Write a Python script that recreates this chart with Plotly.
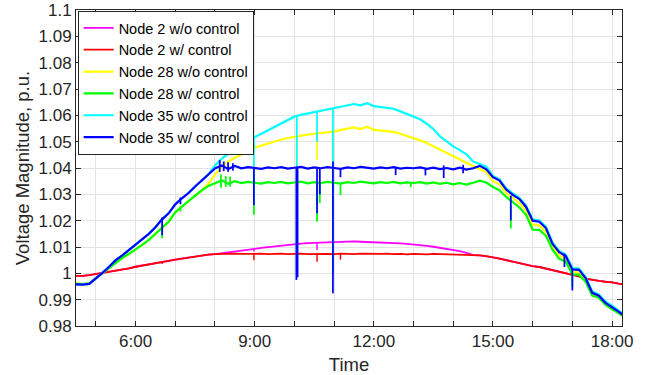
import plotly.graph_objects as go

# ---------------- data ----------------
# sample times: every 10 minutes from 4:30 to 18:20 (hours)
T_START_MIN = 270
T_STEP_MIN = 10
N_SAMPLES = 84
time_h = [(T_START_MIN + i * T_STEP_MIN) / 60.0 for i in range(N_SAMPLES)]

# Node 35 w/ control (blue)
blue_early = [0.9958, 0.9957, 0.9960, 0.9980, 1.0002, 1.0025, 1.0050, 1.0068, 1.0088, 1.0110,
              1.0130, 1.0150, 1.0175, 1.0205, 1.0228, 1.0262, 1.0285, 1.0305, 1.0330, 1.0352, 1.0375]
blue_mid = [1.0398, 1.0410, 1.0396, 1.0408, 1.0399, 1.0403,
            1.0400, 1.0397, 1.0402, 1.0399, 1.0403, 1.0398,
            1.0401, 1.0404, 1.0398, 1.0402, 1.0399, 1.0403,
            1.0400, 1.0397, 1.0402, 1.0399, 1.0404, 1.0400,
            1.0398, 1.0402, 1.0399, 1.0403, 1.0398, 1.0401,
            1.0399, 1.0402, 1.0397, 1.0401, 1.0396, 1.0400,
            1.0395, 1.0401, 1.0394, 1.0399, 1.0408, 1.0395]
blue_late = [1.0365, 1.0352, 1.0318, 1.0298, 1.0282, 1.0252, 1.0200, 1.0196, 1.0172, 1.0112, 1.0080,
             1.0066, 1.0015, 1.0013, 0.9982, 0.9926, 0.9915, 0.9888, 0.9872, 0.9855, 0.9835]

# Node 28 w/ control (green)
green_early = [0.9961, 0.9959, 0.9962, 0.9981, 1.0000, 1.0021, 1.0041, 1.0059, 1.0074, 1.0090,
               1.0108, 1.0127, 1.0150, 1.0172, 1.0196, 1.0232, 1.0254, 1.0274, 1.0295, 1.0315, 1.0332]
green_mid = [1.0342, 1.0353, 1.0340, 1.0350, 1.0343, 1.0347,
             1.0344, 1.0341, 1.0346, 1.0343, 1.0347, 1.0342,
             1.0345, 1.0348, 1.0342, 1.0346, 1.0343, 1.0347,
             1.0344, 1.0341, 1.0346, 1.0343, 1.0348, 1.0344,
             1.0342, 1.0346, 1.0343, 1.0347, 1.0342, 1.0345,
             1.0343, 1.0346, 1.0341, 1.0345, 1.0340, 1.0344,
             1.0338, 1.0343, 1.0337, 1.0344, 1.0352, 1.0345]
green_late = [1.0328, 1.0315, 1.0290, 1.0270, 1.0250, 1.0222, 1.0166, 1.0165, 1.0143, 1.0090, 1.0055,
              1.0045, 0.9996, 0.9995, 0.9968, 0.9915, 0.9907, 0.9880, 0.9865, 0.9850, 0.9832]

# Node 35 w/o control (cyan): same as blue before 8:00
cyan_mid = [1.0410, 1.0435, 1.0455, 1.0470, 1.0490, 1.0505,
            1.0518, 1.0530, 1.0543, 1.0557, 1.0570, 1.0582,
            1.0595, 1.0602, 1.0607, 1.0613, 1.0616, 1.0622,
            1.0627, 1.0632, 1.0637, 1.0643, 1.0638, 1.0646,
            1.0635, 1.0632, 1.0629, 1.0625, 1.0615, 1.0604,
            1.0595, 1.0585, 1.0568, 1.0548, 1.0520, 1.0500,
            1.0482, 1.0468, 1.0452, 1.0425, 1.0415, 1.0405]
cyan_late = [1.0370, 1.0357, 1.0323, 1.0303, 1.0287, 1.0257, 1.0205, 1.0201, 1.0177, 1.0117, 1.0085,
             1.0071, 1.0020, 1.0018, 0.9987, 0.9931, 0.9920, 0.9893, 0.9877, 0.9860, 0.9840]

# Node 28 w/o control (yellow): same as green before 7:50
yellow_mid = [1.0340,
              1.0375, 1.0405, 1.0425, 1.0440, 1.0452, 1.0465,
              1.0478, 1.0485, 1.0493, 1.0500, 1.0508, 1.0514,
              1.0519, 1.0522, 1.0527, 1.0530, 1.0532, 1.0535,
              1.0538, 1.0545, 1.0550, 1.0554, 1.0548, 1.0557,
              1.0545, 1.0543, 1.0540, 1.0537, 1.0530, 1.0522,
              1.0513, 1.0505, 1.0495, 1.0482, 1.0470, 1.0458,
              1.0445, 1.0432, 1.0420, 1.0408, 1.0398, 1.0385]
yellow_late = [1.0350, 1.0338, 1.0305, 1.0285, 1.0268, 1.0238, 1.0185, 1.0182, 1.0158, 1.0100, 1.0068,
               1.0056, 1.0005, 1.0004, 0.9975, 0.9920, 0.9911, 0.9884, 0.9869, 0.9852, 0.9834]

# Node 2 w/ control (red)
red_early = [0.9990, 0.9990, 0.9993, 0.9997, 1.0001, 1.0005, 1.0009, 1.0014, 1.0019, 1.0025,
             1.0029, 1.0033, 1.0037, 1.0042, 1.0047, 1.0052, 1.0056, 1.0060, 1.0064, 1.0068, 1.0071]
red_mid = [1.0073, 1.0074, 1.0073, 1.0075, 1.0074, 1.0073,
           1.0074, 1.0075, 1.0073, 1.0074, 1.0075, 1.0073,
           1.0074, 1.0075, 1.0073, 1.0074, 1.0075, 1.0074,
           1.0073, 1.0075, 1.0074, 1.0073, 1.0075, 1.0074,
           1.0073, 1.0074, 1.0075, 1.0073, 1.0074, 1.0072,
           1.0074, 1.0073, 1.0072, 1.0074, 1.0073, 1.0072,
           1.0071, 1.0072, 1.0070, 1.0069, 1.0068, 1.0065]
red_late = [1.0061, 1.0056, 1.0050, 1.0044, 1.0040, 1.0032, 1.0027, 1.0024, 1.0018, 1.0011, 1.0006,
            1.0001, 0.9995, 0.9988, 0.9980, 0.9975, 0.9971, 0.9968, 0.9966, 0.9961, 0.9958]

# Node 2 w/o control (magenta): differs from red between 8:10 and 14:20
magenta_mid = [1.0076, 1.0080, 1.0083, 1.0087, 1.0090,
               1.0093, 1.0097, 1.0100, 1.0103, 1.0106, 1.0109,
               1.0111, 1.0113, 1.0115, 1.0116, 1.0117, 1.0118,
               1.0119, 1.0119, 1.0120, 1.0121, 1.0120, 1.0119,
               1.0120, 1.0118, 1.0117, 1.0116, 1.0114, 1.0112,
               1.0110, 1.0107, 1.0104, 1.0101, 1.0097, 1.0093,
               1.0089, 1.0084, 1.0078]

blue_v = blue_early + blue_mid + blue_late
green_v = green_early + green_mid + green_late
cyan_v = blue_early + cyan_mid + cyan_late
yellow_v = green_early[:20] + yellow_mid + yellow_late
red_v = red_early + red_mid + red_late
magenta_v = red_v[:22] + magenta_mid + red_v[60:]

# short transients: (time h, top value, bottom value)
blue_spikes = [(6.67, 1.0212, 1.0145), (7.13, 1.0288, 1.0262),
               (8.12, 1.0430, 1.0385), (8.22, 1.0425, 1.0388), (8.33, 1.0422, 1.0386), (8.45, 1.0418, 1.0390),
               (8.98, 1.0400, 1.0259), (10.05, 1.0402, 0.9975), (10.08, 1.0402, 0.9985),
               (10.57, 1.0400, 1.0228), (10.64, 1.0400, 1.0300), (10.97, 1.0425, 0.9924),
               (11.16, 1.0400, 1.0365), (12.55, 1.0400, 1.0373), (13.30, 1.0400, 1.0372),
               (13.76, 1.0410, 1.0362), (14.25, 1.0412, 1.0380), (15.45, 1.0295, 1.0201),
               (16.80, 1.0075, 1.0024), (17.00, 1.0020, 0.9935)]
green_spikes = [(6.67, 1.0180, 1.0133), (7.13, 1.0255, 1.0235),
                (8.15, 1.0375, 1.0325), (8.27, 1.0370, 1.0328), (8.38, 1.0368, 1.0330),
                (8.98, 1.0345, 1.0222), (10.06, 1.0345, 1.0003), (10.57, 1.0345, 1.0196),
                (10.64, 1.0345, 1.0267), (10.97, 1.0345, 1.0000), (11.16, 1.0345, 1.0297),
                (12.93, 1.0345, 1.0327), (15.45, 1.0255, 1.0170), (17.00, 1.0000, 0.9950)]
cyan_spikes = [(8.98, 1.0518, 1.0270), (10.06, 1.0598, 0.9985), (10.57, 1.0614, 1.0500),
               (10.97, 1.0627, 1.0000)]
yellow_spikes = [(8.98, 1.0478, 1.0270), (10.06, 1.0520, 1.0000), (10.57, 1.0531, 1.0430),
                 (10.97, 1.0538, 1.0400)]
red_spikes = [(6.67, 1.0043, 1.0035), (8.98, 1.0074, 1.0050), (10.06, 1.0074, 1.0006),
              (10.57, 1.0074, 1.0044), (11.16, 1.0074, 1.0052)]
magenta_spikes = [(8.98, 1.0093, 1.0083), (10.06, 1.0111, 1.0010), (10.57, 1.0116, 1.0089)]

series_names = ["Node 2 w/o control", "Node 2 w/ control", "Node 28 w/o control",
                "Node 28 w/ control", "Node 35 w/o control", "Node 35 w/ control"]
series_values = [magenta_v, red_v, yellow_v, green_v, cyan_v, blue_v]
series_spikes = [magenta_spikes, red_spikes, yellow_spikes, green_spikes, cyan_spikes, blue_spikes]
series_colors = ["#ff00ff", "#ff0000", "#ffff00", "#00ff00", "#00ffff", "#0000ff"]
series_widths = [1.8, 1.8, 2.2, 2.2, 2.2, 2.2]

x_tick_hours = list(range(5, 19))
x_tick_labels = ["", "6:00", "", "", "9:00", "", "", "12:00", "", "", "15:00", "", "", "18:00"]
y_tick_vals = [0.98, 0.99, 1.00, 1.01, 1.02, 1.03, 1.04, 1.05, 1.06, 1.07, 1.08, 1.09, 1.10]
y_tick_labels = ["0.98", "0.99", "1", "1.01", "1.02", "1.03", "1.04", "1.05", "1.06", "1.07",
                 "1.08", "1.09", "1.1"]

# ---------------- figure ----------------
fig = go.Figure()
for name, vals, spikes, col, w in zip(series_names, series_values, series_spikes,
                                      series_colors, series_widths):
    fig.add_trace(go.Scatter(x=time_h, y=vals, mode="lines", name=name,
                             line=dict(color=col, width=w)))
    sx, sy = [], []
    for t, top, bot in spikes:
        sx += [t, t, None]
        sy += [top, bot, None]
    fig.add_trace(go.Scatter(x=sx, y=sy, mode="lines", showlegend=False,
                             line=dict(color=col, width=w * 0.8), connectgaps=False))

axis_col = "#262626"
grid_col = "#e3e3e3"
fig.update_layout(
    width=655, height=375,
    margin=dict(l=76, r=33, t=10, b=49, autoexpand=False),
    plot_bgcolor="white", paper_bgcolor="white",
    font=dict(family="Liberation Sans, Arial, Helvetica, sans-serif", color=axis_col),
    legend=dict(x=0.003, y=0.997, xanchor="left", yanchor="top", bgcolor="white",
                bordercolor=axis_col, borderwidth=1, font=dict(size=14.5, color="black"),
                tracegroupgap=0, itemwidth=30, xref="paper", yref="paper"),
    xaxis=dict(range=[4.5, 18.25], tickmode="array", tickvals=x_tick_hours, ticktext=x_tick_labels,
               ticks="inside", ticklen=5, tickcolor=axis_col, showline=True, linecolor=axis_col,
               linewidth=1, mirror="ticks", showgrid=True, gridcolor=grid_col, zeroline=False,
               automargin=False, tickfont=dict(size=17, color=axis_col),
               title=dict(text="Time", font=dict(size=18.5, color=axis_col), standoff=9)),
    yaxis=dict(range=[0.98, 1.1], tickmode="array", tickvals=y_tick_vals, ticktext=y_tick_labels,
               ticks="inside", ticklen=5, tickcolor=axis_col, showline=True, linecolor=axis_col,
               linewidth=1, mirror="ticks", showgrid=True, gridcolor=grid_col, zeroline=False,
               automargin=False, tickfont=dict(size=17, color=axis_col),
               title=dict(text="Voltage Magnitude, p.u.", font=dict(size=18.5, color=axis_col),
                          standoff=4)),
)
fig.write_html("out.html", config={"displayModeBar": False},
               post_script="document.body.style.margin='0';document.body.style.overflow='hidden';")
